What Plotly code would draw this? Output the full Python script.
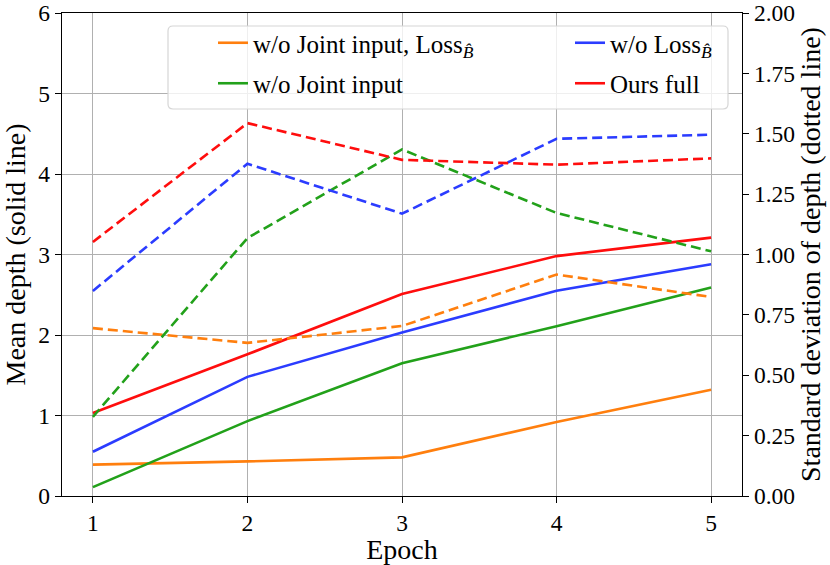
import plotly.graph_objects as go

epochs = [1, 2, 3, 4, 5]

# mean depth (left axis, solid)
mean_no_joint_no_loss = [0.39, 0.43, 0.48, 0.92, 1.32]
mean_no_loss = [0.55, 1.48, 2.03, 2.55, 2.88]
mean_no_joint = [0.11, 0.93, 1.65, 2.11, 2.59]
mean_full = [1.03, 1.76, 2.51, 2.98, 3.21]

# std of depth (right axis, dashed)
std_no_joint_no_loss = [0.695, 0.634, 0.704, 0.917, 0.824]
std_no_loss = [0.849, 1.376, 1.169, 1.479, 1.496]
std_no_joint = [0.328, 1.068, 1.435, 1.172, 1.013]
std_full = [1.052, 1.544, 1.392, 1.372, 1.398]

loss_b = 'Loss<sub><i>B\u0302</i></sub>'
names = ['w/o Joint input, ' + loss_b, 'w/o Joint input', 'w/o ' + loss_b, 'Ours full']
colors = ['#ff7f0e', '#22a11a', '#2b3cff', '#ff0d0d']
legends = ['legend', 'legend', 'legend2', 'legend2']
means = [mean_no_joint_no_loss, mean_no_joint, mean_no_loss, mean_full]
stds = [std_no_joint_no_loss, std_no_joint, std_no_loss, std_full]

fig = go.Figure()
for i, (name, color, m, lg) in enumerate(zip(names, colors, means, legends)):
    fig.add_trace(go.Scatter(x=epochs, y=m, mode='lines', name=name, legend=lg,
                             legendgroup=str(i),
                             line=dict(color=color, width=2.6)))
for name, color, s in zip(names, colors, stds):
    fig.add_trace(go.Scatter(x=epochs, y=s, mode='lines', name=name, yaxis='y2',
                             showlegend=False,
                             line=dict(color=color, width=2.6, dash='10px,5px')))

serif = 'Liberation Serif, Times New Roman, serif'
font = dict(family=serif, size=23.5, color='black')
tickfont = dict(size=23.5)
leg_common = dict(orientation='v', yanchor='top', xanchor='left',
                  traceorder='grouped', tracegroupgap=5,
                  bgcolor='rgba(0,0,0,0)', borderwidth=0,
                  font=dict(size=25))

# legend frame (rounded, semi-transparent) drawn as a shape
x0, x1 = (168 - 62) / 680, (728 - 62) / 680
y0, y1 = 1 - (109 - 13) / 483, 1 - (26 - 13) / 483
rx, ry = 5 / 680, 5 / 483
frame = (f'M {x0 + rx},{y0} L {x1 - rx},{y0} Q {x1},{y0} {x1},{y0 + ry} '
         f'L {x1},{y1 - ry} Q {x1},{y1} {x1 - rx},{y1} '
         f'L {x0 + rx},{y1} Q {x0},{y1} {x0},{y1 - ry} '
         f'L {x0},{y0 + ry} Q {x0},{y0} {x0 + rx},{y0} Z')

fig.update_layout(
    width=830, height=565,
    margin=dict(l=62, r=88, t=13, b=69, autoexpand=False),
    plot_bgcolor='white', paper_bgcolor='white',
    font=font,
    showlegend=True,
    legend=dict(x=(213 - 62) / 680, y=1 - (20 - 13) / 483, **leg_common),
    legend2=dict(x=(570 - 62) / 680, y=1 - (20 - 13) / 483, **leg_common),
    shapes=[dict(type='path', path=frame, xref='paper', yref='paper', layer='above',
                 fillcolor='rgba(255,255,255,0.8)', line=dict(color='#d6d6d6', width=1.2))],
    xaxis=dict(title=dict(text='Epoch', standoff=2), range=[0.8, 5.2], tickvals=epochs,
               tickfont=tickfont,
               showgrid=True, gridcolor='#b0b0b0', gridwidth=1,
               showline=True, linecolor='black', linewidth=1.4, mirror=True,
               ticks='outside', ticklen=6, tickcolor='black', zeroline=False),
    yaxis=dict(title=dict(text='Mean depth (solid line)', standoff=8), range=[0, 6], dtick=1,
               tickfont=tickfont,
               showgrid=True, gridcolor='#b0b0b0', gridwidth=1,
               showline=True, linecolor='black', linewidth=1.4,
               ticks='outside', ticklen=6, tickcolor='black', zeroline=False),
    yaxis2=dict(title=dict(text='Standard deviation of depth (dotted line)', standoff=6),
                range=[0, 2], dtick=0.25, tickformat='.2f', overlaying='y', side='right',
                tickfont=tickfont,
                showgrid=False, showline=True, linecolor='black', linewidth=1.4,
                ticks='outside', ticklen=6, tickcolor='black', zeroline=False),
)

fig.write_html('out.html', config={'displayModeBar': False},
               post_script="document.body.style.margin='0';")
